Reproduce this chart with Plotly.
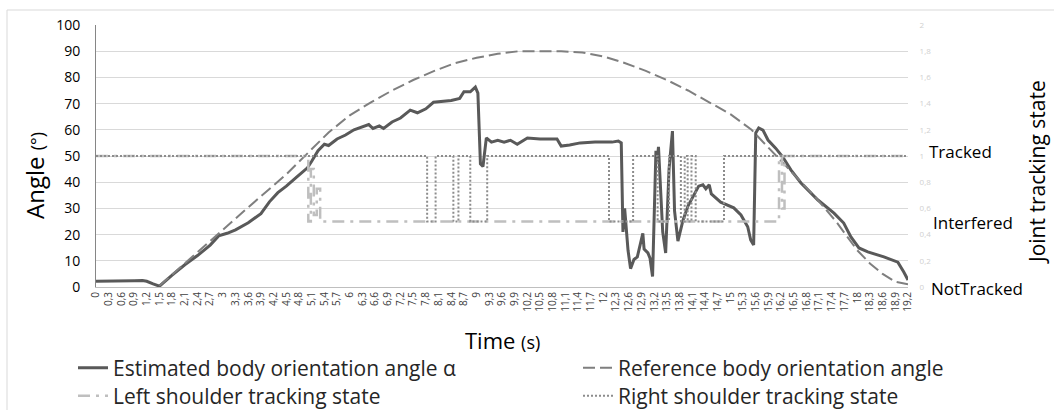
import plotly.graph_objects as go

# ---------------- data ----------------
est_t = [0.0, 0.3, 0.6, 0.9, 1.1, 1.2, 1.35, 1.5, 1.8, 2.1, 2.4, 2.7, 2.9, 3.1, 3.3, 3.6,
         3.9, 4.1, 4.3, 4.5, 4.75, 5.0, 5.1, 5.25, 5.4, 5.5, 5.7, 5.9, 6.1, 6.3, 6.45, 6.55,
         6.7, 6.8, 7.0, 7.2, 7.43, 7.6, 7.8, 7.98, 8.2, 8.4, 8.6, 8.7, 8.85, 8.97, 9.03, 9.09,
         9.15, 9.23, 9.35, 9.5, 9.65, 9.8, 9.96, 10.1, 10.2, 10.5, 10.9, 11.0, 11.2, 11.45,
         11.8, 12.2, 12.35, 12.42, 12.46, 12.5, 12.58, 12.64, 12.72, 12.8, 12.93, 12.96, 13.05,
         13.1, 13.16, 13.24, 13.27, 13.3, 13.4, 13.47, 13.55, 13.63, 13.68, 13.76, 13.88, 14.0,
         14.13, 14.25, 14.35, 14.42, 14.5, 14.55, 14.77, 15.08, 15.25, 15.41, 15.48, 15.55,
         15.6, 15.67, 15.77, 15.89, 16.07, 16.24, 16.43, 16.67, 17.07, 17.45, 17.68, 17.85,
         18.04, 18.25, 18.63, 18.96, 19.1, 19.2]
est_v = [2.2, 2.2, 2.3, 2.4, 2.5, 2.2, 1.2, 0.3, 4.5, 8.5, 12.0, 16.0, 19.5, 20.5, 21.8, 24.5,
         28.0, 32.5, 36.0, 38.5, 42.0, 45.5, 48.0, 52.0, 54.5, 54.0, 56.5, 58.0, 60.0, 61.0, 62.0, 60.5,
         61.5, 60.5, 63.0, 64.5, 67.5, 66.5, 68.0, 70.5, 71.0, 71.2, 72.0, 74.5, 74.5, 76.3, 74.0, 47.0,
         46.0, 56.9, 55.3, 56.0, 55.3, 56.0, 54.5, 56.0, 56.9, 56.5, 56.5, 53.8, 54.2, 55.0,
         55.3, 55.3, 55.7, 55.0, 21.0, 30.0, 14.0, 7.0, 10.5, 11.5, 20.5, 14.5, 13.0,
         11.0, 4.0, 52.0, 48.0, 53.5, 21.0, 13.0, 45.0, 59.5, 29.0, 17.5, 25.5, 31.0,
         35.0, 38.5, 39.0, 37.5, 39.0, 35.5, 32.4, 30.2, 27.5, 23.0, 18.0, 16.0,
         58.8, 60.7, 59.9, 56.1, 53.0, 49.6, 44.7, 39.7, 33.2, 28.2, 24.4, 19.1,
         14.9, 13.4, 11.5, 9.5, 5.7, 2.7]

ref_t = [1.5, 2.0, 2.5, 3.0, 3.5, 4.0, 4.5, 5.0, 5.5, 6.0, 6.5, 7.0, 7.5, 8.0, 8.5, 9.0, 9.5,
         10.0, 10.5, 11.0, 11.5, 12.0, 12.5, 13.0, 13.5, 14.0, 14.5, 15.0, 15.5, 16.0, 16.5,
         17.0, 17.5, 18.0, 18.3, 18.6, 18.9, 19.2]
ref_v = [0.5, 7.5, 14.5, 21.8, 29.0, 36.0, 43.0, 51.0, 59.0, 65.5, 70.5, 75.0, 79.0, 82.5, 85.5,
         87.5, 89.0, 90.0, 90.0, 90.0, 89.5, 88.0, 85.5, 82.5, 79.0, 75.0, 70.5, 66.0, 60.0,
         51.5, 43.0, 34.5, 25.0, 14.0, 9.0, 5.0, 2.0, 1.0]

left_t = [0.0, 5.02, 5.08, 5.15, 5.22, 5.3, 16.15, 16.22, 16.28, 19.2]
left_v = [1.0, 0.5, 0.9, 0.55, 0.75, 0.5, 1.0, 0.6, 1.0, 1.0]

right_t = [0.0, 7.83, 8.03, 8.45, 8.57, 8.85, 9.25, 12.13, 12.7, 13.28, 13.55, 13.83, 13.92,
           13.99, 14.08, 14.18, 14.85, 19.2]
right_v = [1.0, 0.5, 1.0, 0.5, 1.0, 0.5, 1.0, 0.5, 1.0, 0.5, 1.0, 0.5, 1.0,
           0.5, 1.0, 0.5, 1.0, 1.0]

x_ticks = [round(0.3 * i, 1) for i in range(65)]
x_ticktext = [(str(int(v)) if abs(v - round(v)) < 1e-9 else str(v).replace(".", ",")) for v in x_ticks]
y2_ticks = [0, 0.2, 0.4, 0.6, 0.8, 1.0, 1.2, 1.4, 1.6, 1.8, 2.0]
y2_ticktext = ["0", "0,2", "0,4", "0,6", "0,8", "1", "1,2", "1,4", "1,6", "1,8", "2"]

# ---------------- layout geometry ----------------
L, R, T, B = 96, 146, 25, 123
W, H = 1054, 410
PW, PH = W - L - R, H - T - B


def px(x):
    return (x - L) / PW


def py(y):
    return (H - B - y) / PH


def cy(y):
    return 1 - y / H


FONT = "Open Sans"
LEG_FONT = dict(size=21, color="#262626", family=FONT)

fig = go.Figure()
fig.add_trace(go.Scatter(x=est_t, y=est_v, mode="lines", name="Estimated body orientation angle α",
                         line=dict(color="#595959", width=3), legend="legend"))
fig.add_trace(go.Scatter(x=ref_t, y=ref_v, mode="lines", name="Reference body orientation angle",
                         line=dict(color="#7f7f7f", width=2, dash="12px,5px"), legend="legend2"))
fig.add_trace(go.Scatter(x=left_t, y=left_v, mode="lines", name="Left shoulder tracking state",
                         line=dict(color="#bfbfbf", width=2.5, dash="12px,6px,3px,6px", shape="hv"),
                         yaxis="y2", legend="legend3"))
fig.add_trace(go.Scatter(x=right_t, y=right_v, mode="lines", name="Right shoulder tracking state",
                         line=dict(color="#8c8c8c", width=2, dash="2px,2px", shape="hv"),
                         yaxis="y2", legend="legend4"))

annotations = [
    dict(text="Angle <span style='font-size:18px'>(°)</span>", x=px(34), y=py(176), xref="paper", yref="paper",
         xanchor="center", yanchor="middle",
         textangle=-90, showarrow=False, font=dict(size=24, color="#000000", family=FONT)),
    dict(text="Time <span style='font-size:18px'>(s)</span>", x=px(502), y=py(340), xref="paper", yref="paper",
         xanchor="center", yanchor="middle",
         showarrow=False, font=dict(size=22, color="#000000", family=FONT)),
    dict(text="Joint tracking state", x=px(1037), y=py(172), xref="paper", yref="paper",
         xanchor="center", yanchor="middle",
         textangle=-90, showarrow=False, font=dict(size=21, color="#000000", family=FONT)),
]
for label, xx, yy in [("Tracked", 927, 151), ("Interfered", 931, 222), ("NotTracked", 929, 288)]:
    annotations.append(dict(text=label, x=px(xx), y=py(yy), xref="paper", yref="paper",
                            xanchor="left", yanchor="middle", showarrow=False,
                            font=dict(size=17, color="#000000", family=FONT)))


def leg(xp, yp):
    return dict(x=px(xp), y=cy(yp), xref="paper", yref="container", xanchor="left", yanchor="middle",
                orientation="v", font=LEG_FONT, bgcolor="rgba(0,0,0,0)", itemwidth=30)


fig.update_layout(
    width=W, height=H,
    margin=dict(l=L, r=R, t=T, b=B),
    paper_bgcolor="white", plot_bgcolor="white",
    font=dict(family=FONT, color="#000000"),
    xaxis=dict(range=[0, 19.2], tickmode="array", tickvals=x_ticks, ticktext=x_ticktext,
               tickangle=-90, tickfont=dict(size=10, color="#404040"), showgrid=False,
               showline=True, linecolor="#bfbfbf", linewidth=1, zeroline=False, ticks="",
               automargin=False),
    yaxis=dict(range=[0, 100], tickvals=list(range(0, 101, 10)), tickfont=dict(size=14, color="#000000"),
               showgrid=True, gridcolor="#d9d9d9", gridwidth=1, zeroline=False,
               showline=True, linecolor="#868686", linewidth=1,
               ticks="outside", ticklen=12, tickcolor="rgba(0,0,0,0)", automargin=False),
    yaxis2=dict(range=[0, 2], overlaying="y", side="right", tickmode="array", tickvals=y2_ticks,
                ticktext=y2_ticktext, tickfont=dict(size=8, color="#d0d0d0"), showgrid=False,
                zeroline=False, showline=False, ticks="outside", ticklen=9,
                tickcolor="rgba(0,0,0,0)", automargin=False),
    legend=leg(73, 368),
    legend2=leg(578, 368),
    legend3=leg(73, 396),
    legend4=leg(578, 396),
    annotations=annotations,
    shapes=[dict(type="rect", xref="paper", yref="paper", x0=px(7), x1=px(1070), y0=py(430), y1=py(10),
                 line=dict(color="#d9d9d9", width=1), fillcolor="rgba(0,0,0,0)", layer="below")],
    showlegend=True,
)

fig.write_html("out.html")
